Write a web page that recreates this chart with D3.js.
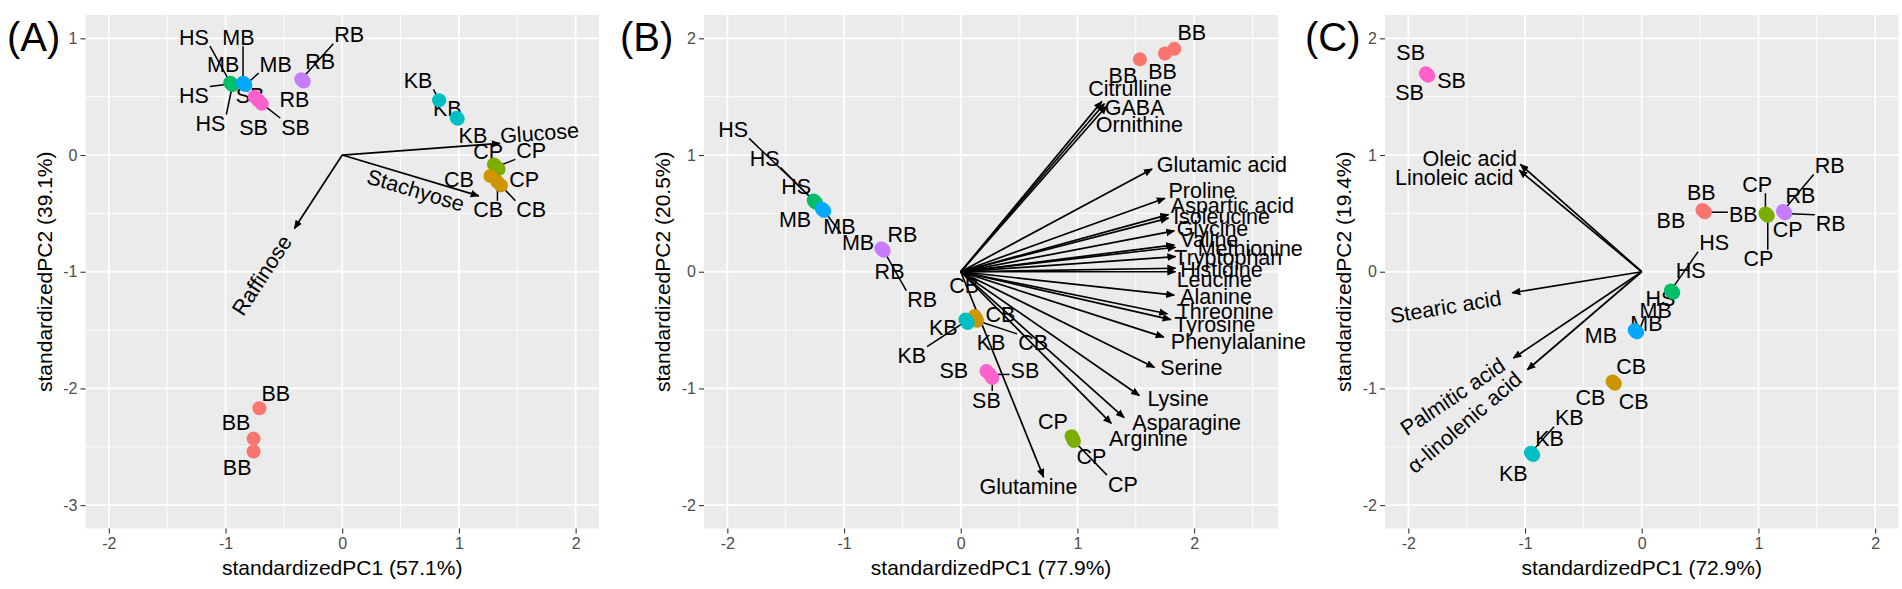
<!DOCTYPE html>
<html>
<head>
<meta charset="utf-8">
<script src="https://cdn.jsdelivr.net/npm/d3@7"></script>
<style>
  body { margin: 0; background: #fff; }
  text { font-family: "Liberation Sans", Arial, sans-serif; }
</style>
</head>
<body>
<svg id="chart"></svg>
<script>
// ---------- data ----------
// (A) sugars
var groupsA = ["HS","HS","HS","MB","MB","MB","SB","SB","SB","RB","RB","RB","KB","KB","KB","CP","CP","CP","CB","CB","CB","BB","BB","BB"];
var pc1A = [-0.96,-0.95,-0.94, -0.85,-0.84,-0.83, -0.75,-0.72,-0.69, -0.35,-0.34,-0.33, 0.83,0.98,0.99, 1.30,1.32,1.34, 1.27,1.33,1.36, -0.71,-0.76,-0.76];
var pc2A = [0.62,0.61,0.60, 0.62,0.61,0.60, 0.50,0.47,0.44, 0.65,0.64,0.63, 0.47,0.32,0.31, -0.08,-0.10,-0.12, -0.18,-0.23,-0.26, -2.17,-2.43,-2.54];
var labX_A = [-1.27,-1.27,-1.13, -0.89,-1.02,-0.57, -0.79,-0.76,-0.40, 0.06,-0.19,-0.41, 0.65,0.90,1.12, 1.25,1.62,1.56, 1.00,1.25,1.62, -0.57,-0.91,-0.90];
var labY_A = [1.01,0.51,0.27, 1.01,0.78,0.78, 0.51,0.24,0.24, 1.03,0.80,0.48, 0.64,0.40,0.17, 0.03,0.04,-0.21, -0.21,-0.47,-0.47, -2.04,-2.29,-2.68];
var segA = [1,1,1, 1,0,1, 0,0,1, 1,0,0, 1,0,0, 0,1,0, 0,1,1, 0,0,0];
var varsA = ["Glucose","Stachyose","Raffinose"];
var varPc1A = [1.35, 1.17, -0.41];
var varPc2A = [0.10, -0.35, -0.63];
var varLabX_A = [1.69, 0.63, -0.69];
var varLabY_A = [0.19, -0.30, -1.03];
var varAnchorA = ["middle","middle","middle"];
var varRotA = [1,1,1];

// (B) amino acids
var groupsB = ["HS","HS","HS","MB","MB","MB","RB","RB","RB","CB","CB","CB","KB","KB","KB","SB","SB","SB","CP","CP","CP","BB","BB","BB"];
var pc1B = [-1.26,-1.25,-1.24, -1.19,-1.18,-1.17, -0.68,-0.67,-0.66, 0.12,0.13,0.14, 0.04,0.05,0.06, 0.22,0.25,0.27, 0.95,0.96,0.97, 1.535,1.75,1.83];
var pc2B = [0.61,0.60,0.59, 0.54,0.53,0.52, 0.20,0.19,0.18, -0.38,-0.40,-0.42, -0.41,-0.42,-0.44, -0.85,-0.88,-0.91, -1.41,-1.43,-1.45, 1.82,1.87,1.91];
var labX_B = [-1.95,-1.68,-1.41, -1.42,-1.04,-0.88, -0.50,-0.61,-0.33, 0.03,0.34,0.62, -0.15,-0.42,0.26, -0.06,0.55,0.22, 0.79,1.12,1.39, 1.39,1.73,1.98];
var labY_B = [1.22,0.97,0.73, 0.45,0.39,0.25, 0.32,0.00,-0.24, -0.12,-0.37,-0.61, -0.48,-0.72,-0.61, -0.85,-0.85,-1.10, -1.28,-1.58,-1.82, 1.68,1.72,2.05];
var segB = [1,1,0, 0,0,1, 0,0,1, 0,0,1, 0,1,0, 0,1,1, 0,0,1, 0,0,0];
var varsB = ["Citrulline","GABA","Ornithine","Glutamic acid","Proline","Aspartic acid","Isoleucine","Glycine","Valine","Methionine","Tryptophan","Histidine","Leucine","Alanine","Threonine","Tyrosine","Phenylalanine","Serine","Lysine","Asparagine","Arginine","Glutamine"];
var varPc1B = [1.21,1.23,1.25, 1.64,1.75,1.78,1.78,1.83,1.83,1.84,1.84,1.84,1.84,1.83,1.77,1.80,1.74,1.66,1.53,1.40,1.29,0.71];
var varPc2B = [1.46,1.44,1.42, 0.88,0.63,0.49,0.46,0.35,0.23,0.21,0.13,0.03,0.00,-0.20,-0.36,-0.41,-0.56,-0.82,-1.06,-1.25,-1.30,-1.76];
var varLabX_B = [1.45,1.49,1.53, 1.68,1.78,1.80,1.82,1.85,1.88,2.03,1.83,1.88,1.85,1.88,1.85,1.83,1.80,1.71,1.60,1.47,1.27,0.58];
var varLabY_B = [1.57,1.41,1.26, 0.92,0.70,0.57,0.47,0.37,0.28,0.20,0.12,0.02,-0.07,-0.21,-0.34,-0.45,-0.60,-0.82,-1.09,-1.29,-1.43,-1.84];
var varAnchorB = ["middle","middle","middle","start","start","start","start","start","start","start","start","start","start","start","start","start","start","start","start","start","start","middle"];
var varRotB = [0,0,0,0,0,0,0,0,0,0,0,0,0,0,0,0,0,0,0,0,0,0];

// (C) fatty acids
var groupsC = ["SB","SB","SB","BB","BB","BB","CP","CP","CP","RB","RB","RB","HS","HS","HS","MB","MB","MB","CB","CB","CB","KB","KB","KB"];
var pc1C = [-1.85,-1.84,-1.83, 0.52,0.53,0.54, 1.06,1.07,1.08, 1.21,1.22,1.23, 0.25,0.26,0.27, -0.06,-0.05,-0.04, -0.25,-0.24,-0.23, -0.95,-0.94,-0.93];
var pc2C = [1.70,1.69,1.68, 0.53,0.52,0.51, 0.50,0.49,0.48, 0.52,0.51,0.50, -0.16,-0.17,-0.18, -0.50,-0.51,-0.52, -0.94,-0.95,-0.96, -1.55,-1.56,-1.57];
var labX_C = [-1.98,-1.63,-1.99, 0.51,0.25,0.87, 0.99,1.25,1.00, 1.61,1.36,1.62, 0.62,0.42,0.16, 0.12,0.04,-0.35, -0.09,-0.44,-0.07, -0.62,-0.79,-1.10];
var labY_C = [1.88,1.64,1.54, 0.68,0.44,0.49, 0.75,0.36,0.11, 0.91,0.65,0.41, 0.25,0.01,-0.23, -0.33,-0.44,-0.55, -0.81,-1.08,-1.11, -1.25,-1.43,-1.73];
var segC = [0,0,0, 0,0,1, 1,0,1, 1,0,1, 1,0,0, 0,0,0, 0,0,0, 1,0,0];
var varsC = ["Oleic acid","Linoleic acid","Stearic acid","Palmitic acid","\u03b1-linolenic acid"];
var varPc1C = [-1.04,-1.05,-1.11,-1.10,-0.98];
var varPc2C = [0.92,0.87,-0.18,-0.74,-0.84];
var varLabX_C = [-1.07,-1.10,-1.68,-1.62,-1.52];
var varLabY_C = [0.97,0.81,-0.30,-1.07,-1.29];
var varAnchorC = ["end","end","middle","middle","middle"];
var varRotC = [0,0,1,1,1];

var ticks5 = [-2,-1,0,1,2];
var ticksA_y = [-3,-2,-1,0,1];

// ---------- layout ----------
var W = 1902, H = 589;
var unit = 116.7;     // px per PC unit (coord_equal)
var panelTop = 15;
var labelSize = 21.5;
var colour = d3.scaleOrdinal()
  .domain(["BB","CB","CP","HS","KB","MB","RB","SB"])
  .range(["#F8766D","#CD9600","#7CAE00","#00BE67","#00BFC4","#00A9FF","#C77CFF","#FF61CC"]);

var svg = d3.select("#chart").attr("width", W).attr("height", H);

svg.append("defs").append("marker")
  .attr("id", "head")
  .attr("viewBox", "0 0 10 10")
  .attr("refX", 9).attr("refY", 5)
  .attr("markerWidth", 9).attr("markerHeight", 9)
  .attr("markerUnits", "userSpaceOnUse")
  .attr("orient", "auto")
  .append("path")
  .attr("d", "M0,0.8 L10,5 L0,9.2 z")
  .attr("fill", "#000");

function drawPanel(p) {
  var x = d3.scaleLinear().domain(p.xDom)
    .range([p.left, p.left + (p.xDom[1] - p.xDom[0]) * unit]);
  var y = d3.scaleLinear().domain(p.yDom)
    .range([panelTop + (p.yDom[1] - p.yDom[0]) * unit, panelTop]);
  var xl = x.range()[0], xr = x.range()[1];
  var yt = y.range()[1], yb = y.range()[0];

  var g = svg.append("g");

  // panel background + grid
  g.append("rect").attr("x", xl).attr("y", yt)
    .attr("width", xr - xl).attr("height", yb - yt).attr("fill", "#EBEBEB");

  function halves(dom) {
    return d3.range(Math.ceil(dom[0] * 2), Math.floor(dom[1] * 2) + 1).map(function (i) { return i / 2; });
  }
  var gx = halves(p.xDom), gy = halves(p.yDom);
  g.selectAll(".vx").data(gx).enter().append("line")
    .attr("x1", function (d) { return x(d); }).attr("x2", function (d) { return x(d); })
    .attr("y1", yt).attr("y2", yb)
    .attr("stroke", "#fff")
    .attr("stroke-width", function (d) { return d % 1 === 0 ? 1.8 : 0.9; });
  g.selectAll(".hy").data(gy).enter().append("line")
    .attr("y1", function (d) { return y(d); }).attr("y2", function (d) { return y(d); })
    .attr("x1", xl).attr("x2", xr)
    .attr("stroke", "#fff")
    .attr("stroke-width", function (d) { return d % 1 === 0 ? 1.8 : 0.9; });

  // axes
  var ax = g.append("g").attr("transform", "translate(0," + yb + ")")
    .call(d3.axisBottom(x).tickValues(p.xTicks).tickSize(5).tickPadding(4)
      .tickFormat(function (d) { return String(d); }));
  var ay = g.append("g").attr("transform", "translate(" + xl + ",0)")
    .call(d3.axisLeft(y).tickValues(p.yTicks).tickSize(5).tickPadding(3)
      .tickFormat(function (d) { return String(d); }));
  [ax, ay].forEach(function (a) {
    a.select(".domain").remove();
    a.selectAll(".tick line").attr("stroke", "#333").attr("stroke-width", 1.1);
    a.selectAll(".tick text").attr("fill", "#4D4D4D")
      .style("font-size", "16px").style("font-family", "'Liberation Sans', Arial, sans-serif");
  });

  // axis titles
  g.append("text")
    .attr("x", (xl + xr) / 2).attr("y", 575)
    .attr("text-anchor", "middle")
    .style("font-size", "21px").attr("fill", "#000")
    .text(p.xTitle);
  g.append("text")
    .attr("transform", "translate(" + (xl - 41) + "," + ((yt + yb) / 2) + ") rotate(-90)")
    .attr("dy", "0.35em")
    .attr("text-anchor", "middle")
    .style("font-size", "21px").attr("fill", "#000")
    .text(p.yTitle);

  // tag
  svg.append("text")
    .attr("x", p.tagX).attr("y", 51)
    .style("font-size", "40px").attr("fill", "#000")
    .text(p.tag);

  // loading arrows
  var ox = x(0), oy = y(0);
  p.vars.forEach(function (v, i) {
    g.append("line")
      .attr("x1", ox).attr("y1", oy)
      .attr("x2", x(p.varPc1[i])).attr("y2", y(p.varPc2[i]))
      .attr("stroke", "#000").attr("stroke-width", 1.7)
      .attr("marker-end", "url(#head)");
  });
  p.vars.forEach(function (v, i) {
    var lx = x(p.varLabX[i]), ly = y(p.varLabY[i]);
    var ang = 0;
    if (p.varRot[i]) {
      ang = Math.atan((y(p.varPc2[i]) - oy) / (x(p.varPc1[i]) - ox)) * 180 / Math.PI;
    }
    g.append("text")
      .attr("transform", "translate(" + lx + "," + ly + ") rotate(" + ang + ")")
      .attr("dy", "0.35em")
      .attr("text-anchor", p.varAnchor[i])
      .style("font-size", labelSize + "px").attr("fill", "#000")
      .text(v);
  });

  // sample labels and leader lines
  var segLayer = g.append("g");
  var labLayer = g.append("g");
  p.groups.forEach(function (grp, i) {
    var lx = x(p.labX[i]), ly = y(p.labY[i]);
    var t = labLayer.append("text")
      .attr("x", lx).attr("y", ly).attr("dy", "0.35em")
      .attr("text-anchor", "middle")
      .style("font-size", labelSize + "px").attr("fill", "#000")
      .text(grp);
    if (p.seg[i]) {
      var bb = t.node().getBBox();
      var px = x(p.pc1[i]), py = y(p.pc2[i]);
      var bx0 = bb.x - 1, bx1 = bb.x + bb.width + 1;
      var by0 = ly - labelSize * 0.42, by1 = ly + labelSize * 0.42;
      var ex = Math.max(bx0, Math.min(px, bx1));
      var ey = Math.max(by0, Math.min(py, by1));
      segLayer.append("line")
        .attr("x1", px).attr("y1", py).attr("x2", ex).attr("y2", ey)
        .attr("stroke", "#000").attr("stroke-width", 1.5);
    }
  });

  // points
  g.selectAll(".pt").data(p.groups).enter().append("circle")
    .attr("cx", function (d, i) { return x(p.pc1[i]); })
    .attr("cy", function (d, i) { return y(p.pc2[i]); })
    .attr("r", 7)
    .attr("fill", function (d) { return colour(d); });
}

drawPanel({
  tag: "(A)", tagX: 7, left: 85.5,
  xDom: [-2.2, 2.2], yDom: [-3.2, 1.2], xTicks: ticks5, yTicks: ticksA_y,
  xTitle: "standardizedPC1 (57.1%)", yTitle: "standardizedPC2 (39.1%)",
  groups: groupsA, pc1: pc1A, pc2: pc2A, labX: labX_A, labY: labY_A, seg: segA,
  vars: varsA, varPc1: varPc1A, varPc2: varPc2A, varLabX: varLabX_A, varLabY: varLabY_A,
  varAnchor: varAnchorA, varRot: varRotA
});
drawPanel({
  tag: "(B)", tagX: 620, left: 704,
  xDom: [-2.2, 2.72], yDom: [-2.2, 2.2], xTicks: ticks5, yTicks: ticks5,
  xTitle: "standardizedPC1 (77.9%)", yTitle: "standardizedPC2 (20.5%)",
  groups: groupsB, pc1: pc1B, pc2: pc2B, labX: labX_B, labY: labY_B, seg: segB,
  vars: varsB, varPc1: varPc1B, varPc2: varPc2B, varLabX: varLabX_B, varLabY: varLabY_B,
  varAnchor: varAnchorB, varRot: varRotB
});
drawPanel({
  tag: "(C)", tagX: 1305, left: 1385,
  xDom: [-2.2, 2.2], yDom: [-2.2, 2.2], xTicks: ticks5, yTicks: ticks5,
  xTitle: "standardizedPC1 (72.9%)", yTitle: "standardizedPC2 (19.4%)",
  groups: groupsC, pc1: pc1C, pc2: pc2C, labX: labX_C, labY: labY_C, seg: segC,
  vars: varsC, varPc1: varPc1C, varPc2: varPc2C, varLabX: varLabX_C, varLabY: varLabY_C,
  varAnchor: varAnchorC, varRot: varRotC
});
</script>
</body>
</html>
